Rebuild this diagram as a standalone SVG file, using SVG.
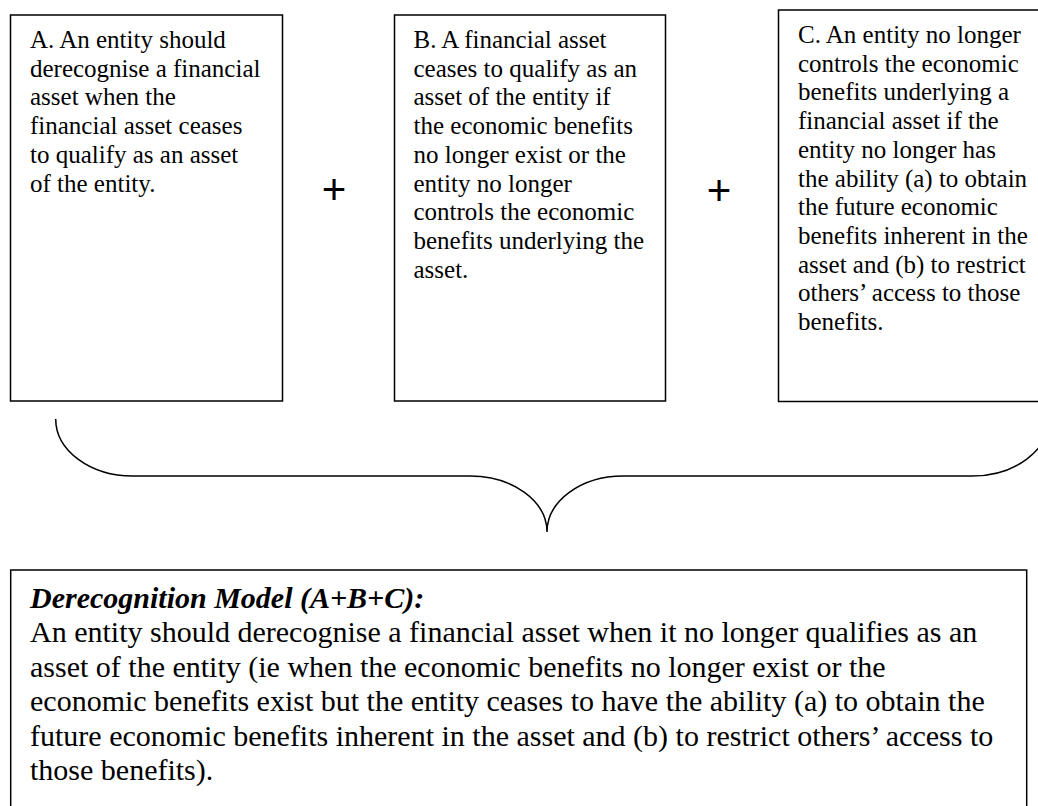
<svg xmlns="http://www.w3.org/2000/svg" width="1038" height="806" viewBox="0 0 1038 806">
<style>
.box{fill:#fff;stroke:#000;stroke-width:1.5}
.t{font-family:"Liberation Serif","Times New Roman",serif;font-size:25px;fill:#000}
.bt{font-family:"Liberation Serif","Times New Roman",serif;font-size:30px;fill:#000}
.ttl{font-weight:bold;font-style:italic}
.plus{font-family:"Liberation Sans",Arial,sans-serif;font-size:42px;fill:#000;text-anchor:middle}
.brace{fill:none;stroke:#000;stroke-width:1.5}
</style>
<rect width="1038" height="806" fill="#fff"/>
<g id="nodeA">
<rect class="box" x="10.5" y="15" width="272" height="386"/>
<text class="t" x="30">
<tspan x="30" y="48">A. An entity should</tspan>
<tspan x="30" y="76.7">derecognise a financial</tspan>
<tspan x="30" y="105.4">asset when the</tspan>
<tspan x="30" y="134.1">financial asset ceases</tspan>
<tspan x="30" y="162.8">to qualify as an asset</tspan>
<tspan x="30" y="191.5">of the entity.</tspan>
</text>
</g>
<g id="plus1"><text class="plus" x="334" y="204">+</text></g>
<g id="nodeB">
<rect class="box" x="394.5" y="15" width="271" height="386"/>
<text class="t">
<tspan x="413.5" y="48">B. A financial asset</tspan>
<tspan x="413.5" y="76.7">ceases to qualify as an</tspan>
<tspan x="413.5" y="105.4">asset of the entity if</tspan>
<tspan x="413.5" y="134.1">the economic benefits</tspan>
<tspan x="413.5" y="162.8">no longer exist or the</tspan>
<tspan x="413.5" y="191.5">entity no longer</tspan>
<tspan x="413.5" y="220.2">controls the economic</tspan>
<tspan x="413.5" y="248.9">benefits underlying the</tspan>
<tspan x="413.5" y="277.6">asset.</tspan>
</text>
</g>
<g id="plus2"><text class="plus" x="719" y="205">+</text></g>
<g id="nodeC">
<rect class="box" x="778.5" y="10" width="280" height="391.5"/>
<text class="t">
<tspan x="798" y="43">C. An entity no longer</tspan>
<tspan x="798" y="71.7">controls the economic</tspan>
<tspan x="798" y="100.4">benefits underlying a</tspan>
<tspan x="798" y="129.1">financial asset if the</tspan>
<tspan x="798" y="157.8">entity no longer has</tspan>
<tspan x="798" y="186.5">the ability (a) to obtain</tspan>
<tspan x="798" y="215.2">the future economic</tspan>
<tspan x="798" y="243.9">benefits inherent in the</tspan>
<tspan x="798" y="272.6">asset and (b) to restrict</tspan>
<tspan x="798" y="301.3">others’ access to those</tspan>
<tspan x="798" y="330">benefits.</tspan>
</text>
</g>
<g id="connectors">
<path class="brace" d="M55.7,419 A77,57 0 0 0 133,476 L470,476 A77,56 0 0 1 547,532 A76,56 0 0 1 623,476 L972,476 A77,57 0 0 0 1049,419"/>
</g>
<g id="nodeModel">
<rect class="box" x="10.7" y="570" width="1016" height="260"/>
<text class="bt">
<tspan class="ttl" x="30" y="607.5">Derecognition Model (A+B+C):</tspan>
<tspan x="30" y="642">An entity should derecognise a financial asset when it no longer qualifies as an</tspan>
<tspan x="30" y="676.5">asset of the entity (ie when the economic benefits no longer exist or the</tspan>
<tspan x="30" y="711">economic benefits exist but the entity ceases to have the ability (a) to obtain the</tspan>
<tspan x="30" y="745.5">future economic benefits inherent in the asset and (b) to restrict others’ access to</tspan>
<tspan x="30" y="780">those benefits).</tspan>
</text>
</g>
</svg>
